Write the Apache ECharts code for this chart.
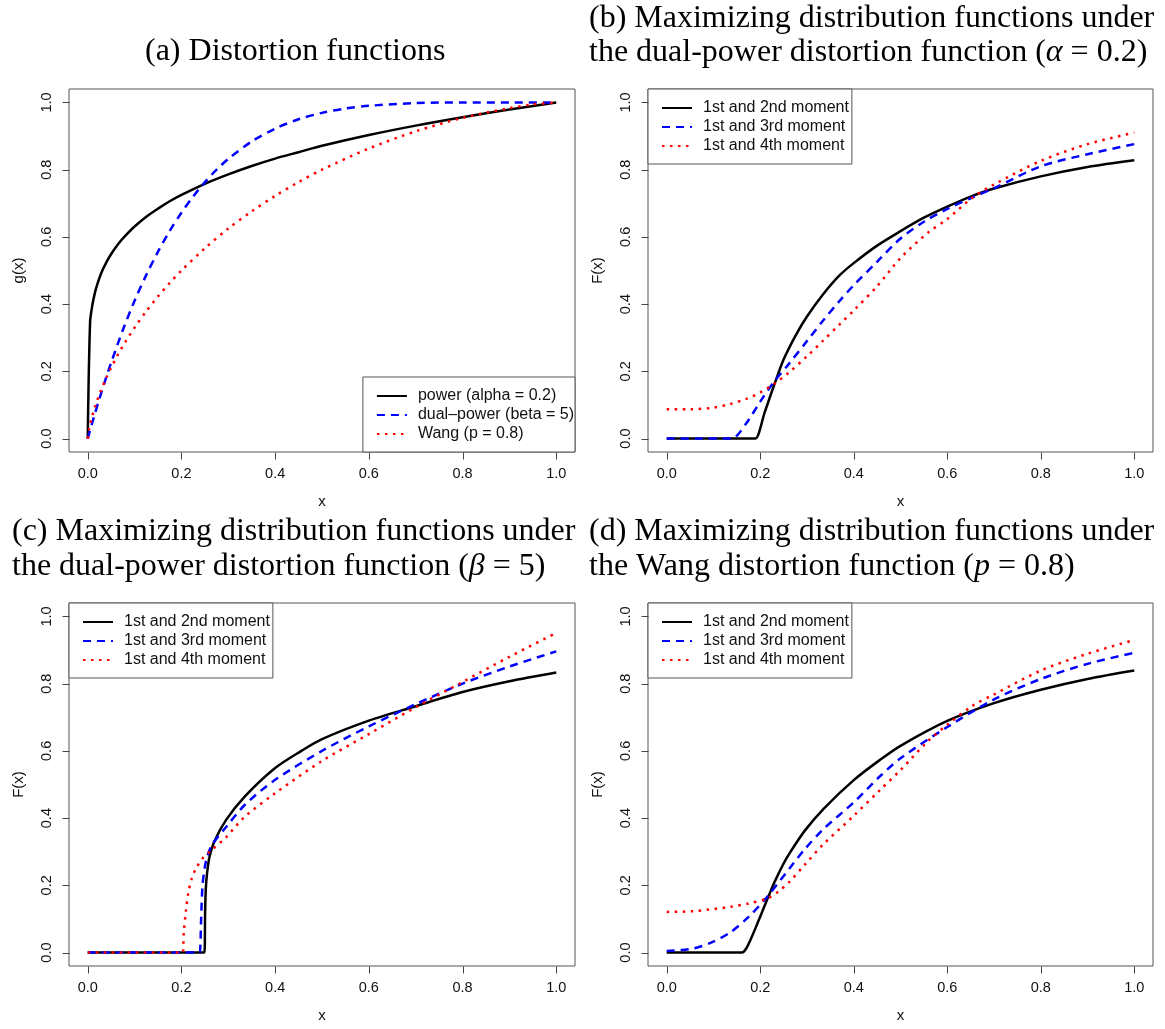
<!DOCTYPE html>
<html><head><meta charset="utf-8">
<script src="https://cdn.jsdelivr.net/npm/echarts/dist/echarts.min.js"></script>
<style>html,body{margin:0;padding:0;background:#fff}#c{width:1165px;height:1029px}</style>
</head><body><div id="c"></div>
<script>
// ---------- tick labels ----------
const ticks = [0, 0.2, 0.4, 0.6, 0.8, 1.0];

// ---------- panel (a): distortion functions ----------
const aPowerX = [0, 0.005, 0.01, 0.015, 0.02, 0.03, 0.04, 0.05, 0.065, 0.08, 0.1, 0.125, 0.15, 0.175, 0.2, 0.25, 0.3, 0.35, 0.4, 0.45, 0.5, 0.6, 0.7, 0.8, 0.9, 1.0];
const aPowerY = [0, 0.346, 0.398, 0.432, 0.457, 0.496, 0.525, 0.549, 0.579, 0.603, 0.631, 0.66, 0.684, 0.706, 0.725, 0.758, 0.786, 0.811, 0.833, 0.852, 0.871, 0.903, 0.931, 0.956, 0.979, 1.0];
const aDualX = [0, 0.0125, 0.025, 0.0375, 0.05, 0.075, 0.1, 0.125, 0.15, 0.175, 0.2, 0.225, 0.25, 0.275, 0.3, 0.35, 0.4, 0.45, 0.5, 0.55, 0.6, 0.7, 0.8, 0.9, 1.0];
const aDualY = [0, 0.061, 0.119, 0.174, 0.226, 0.323, 0.41, 0.487, 0.556, 0.618, 0.672, 0.72, 0.763, 0.8, 0.832, 0.884, 0.922, 0.95, 0.969, 0.982, 0.99, 0.998, 1.0, 1.0, 1.0];
const aWangX = [0, 0.0025, 0.005, 0.01, 0.015, 0.02, 0.03, 0.04, 0.05, 0.065, 0.08, 0.1, 0.125, 0.15, 0.175, 0.2, 0.25, 0.3, 0.35, 0.4, 0.45, 0.5, 0.6, 0.7, 0.8, 0.9, 0.95, 1.0];
const aWangY = [0, 0.025, 0.042, 0.069, 0.092, 0.113, 0.149, 0.182, 0.211, 0.251, 0.287, 0.33, 0.379, 0.423, 0.463, 0.5, 0.566, 0.625, 0.676, 0.722, 0.763, 0.8, 0.863, 0.914, 0.954, 0.983, 0.994, 1.0];
const aNames = ['power (alpha = 0.2)', 'dual\u2013power (beta = 5)', 'Wang (p = 0.8)'];

// ---------- panel (b) ----------
const bM2X = [0, 0.185, 0.19, 0.21, 0.23, 0.25, 0.275, 0.3, 0.335, 0.37, 0.4, 0.45, 0.5, 0.55, 0.6, 0.65, 0.7, 0.8, 0.9, 1.0];
const bM2Y = [0, 0, 0, 0.08, 0.16, 0.235, 0.305, 0.363, 0.43, 0.486, 0.522, 0.574, 0.617, 0.657, 0.69, 0.72, 0.744, 0.78, 0.808, 0.828];
const bM3X = [0, 0.135, 0.14, 0.17, 0.2, 0.23, 0.26, 0.3, 0.335, 0.37, 0.4, 0.45, 0.5, 0.55, 0.6, 0.65, 0.7, 0.8, 0.9, 1.0];
const bM3Y = [0, 0, 0, 0.045, 0.11, 0.17, 0.22, 0.29, 0.352, 0.41, 0.456, 0.526, 0.595, 0.645, 0.683, 0.715, 0.745, 0.81, 0.846, 0.876];
const bM4X = [0, 0.05, 0.1, 0.136, 0.17, 0.2, 0.231, 0.26, 0.3, 0.335, 0.37, 0.4, 0.45, 0.5, 0.56, 0.6, 0.654, 0.7, 0.8, 0.9, 1.0];
const bM4Y = [0.087, 0.087, 0.092, 0.103, 0.118, 0.137, 0.164, 0.195, 0.245, 0.292, 0.34, 0.381, 0.453, 0.537, 0.614, 0.653, 0.717, 0.756, 0.826, 0.876, 0.91];

// ---------- panel (c) ----------
const cM2X = [0, 0.245, 0.249, 0.2505, 0.252, 0.255, 0.26, 0.27, 0.295, 0.335, 0.4, 0.456, 0.5, 0.6, 0.7, 0.8, 0.9, 1.0];
const cM2Y = [0, 0, 0, 0.12, 0.19, 0.24, 0.285, 0.33, 0.394, 0.464, 0.549, 0.6, 0.635, 0.69, 0.733, 0.775, 0.807, 0.833];
const cM3X = [0, 0.235, 0.239, 0.242, 0.245, 0.25, 0.255, 0.265, 0.295, 0.335, 0.4, 0.5, 0.6, 0.7, 0.8, 0.9, 1.0];
const cM3Y = [0, 0, 0, 0.1, 0.2, 0.255, 0.285, 0.32, 0.373, 0.439, 0.514, 0.6, 0.673, 0.739, 0.8, 0.851, 0.896];
const cM4X = [0, 0.2, 0.203, 0.205, 0.21, 0.215, 0.222, 0.231, 0.245, 0.26, 0.295, 0.335, 0.4, 0.5, 0.6, 0.7, 0.8, 0.9, 1.0];
const cM4Y = [0, 0, 0, 0.06, 0.13, 0.18, 0.22, 0.25, 0.28, 0.30, 0.343, 0.404, 0.474, 0.57, 0.65, 0.73, 0.805, 0.88, 0.951];

// ---------- panel (d) ----------
const dM2X = [0, 0.155, 0.161, 0.17, 0.183, 0.195, 0.207, 0.22, 0.231, 0.25, 0.263, 0.295, 0.335, 0.4, 0.455, 0.5, 0.6, 0.7, 0.8, 0.9, 1.0];
const dM2Y = [0, 0, 0, 0.012, 0.05, 0.09, 0.131, 0.175, 0.211, 0.265, 0.296, 0.362, 0.427, 0.513, 0.572, 0.615, 0.689, 0.742, 0.782, 0.814, 0.839];
const dM3X = [0, 0.056, 0.096, 0.136, 0.175, 0.215, 0.263, 0.295, 0.335, 0.4, 0.455, 0.5, 0.6, 0.7, 0.8, 0.9, 1.0];
const dM3Y = [0.005, 0.012, 0.03, 0.06, 0.106, 0.166, 0.251, 0.307, 0.367, 0.447, 0.523, 0.578, 0.671, 0.753, 0.814, 0.859, 0.892];
const dM4X = [0, 0.056, 0.136, 0.175, 0.215, 0.24, 0.263, 0.295, 0.335, 0.4, 0.455, 0.5, 0.558, 0.6, 0.654, 0.7, 0.8, 0.9, 1.0];
const dM4Y = [0.121, 0.123, 0.136, 0.146, 0.161, 0.183, 0.211, 0.261, 0.322, 0.407, 0.482, 0.543, 0.628, 0.678, 0.734, 0.768, 0.839, 0.889, 0.93];

const mNames = ['1st and 2nd moment', '1st and 3rd moment', '1st and 4th moment'];

// ---------- titles ----------
const titleA = '(a) Distortion functions';
const titleB = '(b) Maximizing distribution functions under\nthe dual-power distortion function ({i|\u03b1} = 0.2)';
const titleC = '(c) Maximizing distribution functions under\nthe dual-power distortion function ({i|\u03b2} = 5)';
const titleD = '(d) Maximizing distribution functions under\nthe Wang distortion function ({i|p} = 0.8)';

// ---------- build ----------
const SANS = 'Liberation Sans, Arial, sans-serif';
const SERIF = 'Liberation Serif, serif';
const TFS = 32;
const AXMIN = -0.04, AXMAX = 1.04;
const TICKLEN = 7;
const pairs = (xs, ys) => xs.map((x, i) => [x, ys[i]]);
const styles = [
  { color: '#000000', width: 2.5, type: 'solid' },
  { color: '#0000ff', width: 2.5, type: [8, 6] },
  { color: '#ff0000', width: 2.5, type: [2.5, 5.5] }
];
const grids = [
  { left: 69, top: 89, width: 506, height: 363 },
  { left: 648, top: 89, width: 505, height: 363 },
  { left: 69, top: 603, width: 506, height: 363 },
  { left: 648, top: 603, width: 505, height: 363 }
].map(g => Object.assign(g, { show: true, borderColor: '#555', borderWidth: 1, backgroundColor: 'transparent' }));

const yNames = ['g(x)', 'F(x)', 'F(x)', 'F(x)'];
const axisCommon = (i) => ({
  gridIndex: i, type: 'value', min: AXMIN, max: AXMAX,
  splitLine: { show: false },
  axisLine: { show: false, onZero: false },
  axisTick: { show: false },
  nameLocation: 'middle',
  nameTextStyle: { fontSize: 15, color: '#111', fontFamily: SANS }
});
const xAxes = grids.map((g, i) => Object.assign(axisCommon(i), {
  axisLabel: { customValues: ticks, formatter: v => v.toFixed(1), fontSize: 14.5, color: '#111', fontFamily: SANS, margin: 14 },
  name: 'x', nameGap: 42
}));
const yAxes = grids.map((g, i) => Object.assign(axisCommon(i), {
  axisLabel: { customValues: ticks, formatter: v => v.toFixed(1), fontSize: 14.5, color: '#111', fontFamily: SANS, margin: 15, rotate: 90 },
  name: yNames[i], nameGap: 43, nameRotate: 90
}));

const panelData = [
  [[aPowerX, aPowerY], [aDualX, aDualY], [aWangX, aWangY]],
  [[bM2X, bM2Y], [bM3X, bM3Y], [bM4X, bM4Y]],
  [[cM2X, cM2Y], [cM3X, cM3Y], [cM4X, cM4Y]],
  [[dM2X, dM2Y], [dM3X, dM3Y], [dM4X, dM4Y]]
];
const series = [];
panelData.forEach((pd, p) => {
  pd.forEach((xy, k) => {
    series.push({
      type: 'line', name: p === 0 ? aNames[k] : mNames[k],
      xAxisIndex: p, yAxisIndex: p,
      data: pairs(xy[0], xy[1]),
      showSymbol: false, symbol: 'none',
      smooth: 0.3,
      lineStyle: { color: styles[k].color, width: styles[k].width, type: styles[k].type },
      itemStyle: { color: styles[k].color },
      emphasis: { disabled: true }, animation: false
    });
  });
  // outward tick marks on the frame, placed through the axis scales
  series.push({
    type: 'custom', xAxisIndex: p, yAxisIndex: p, silent: true, clip: false, z: 5,
    data: ticks.map(t => [t, AXMIN]),
    renderItem: (params, api) => {
      const q = api.coord([api.value(0), api.value(1)]);
      const x = Math.round(q[0]) + 0.5, y = Math.round(q[1]) + 0.5;
      return { type: 'line', shape: { x1: x, y1: y, x2: x, y2: y + TICKLEN }, style: { stroke: '#444', lineWidth: 1 } };
    }
  });
  series.push({
    type: 'custom', xAxisIndex: p, yAxisIndex: p, silent: true, clip: false, z: 5,
    data: ticks.map(t => [AXMIN, t]),
    renderItem: (params, api) => {
      const q = api.coord([api.value(0), api.value(1)]);
      const x = Math.round(q[0]) + 0.5, y = Math.round(q[1]) + 0.5;
      return { type: 'line', shape: { x1: x - TICKLEN, y1: y, x2: x, y2: y }, style: { stroke: '#444', lineWidth: 1 } };
    }
  });
});

const legendBase = {
  orient: 'vertical', itemWidth: 30, itemHeight: 14, itemGap: 3,
  borderColor: '#555', borderWidth: 1, borderRadius: 0, backgroundColor: '#fff',
  selectedMode: false,
  itemStyle: { color: 'rgba(0,0,0,0)', borderWidth: 0, opacity: 0 },
  textStyle: { fontFamily: SANS, fontSize: 16, color: '#111', padding: [0, 0, 0, 6] }
};
const legends = [
  Object.assign({}, legendBase, { data: aNames, right: 590, bottom: 577, padding: [11, 1, 10, 13] }),
  Object.assign({}, legendBase, { data: mNames, left: 648, top: 89, padding: [11, 3, 10, 13] }),
  Object.assign({}, legendBase, { data: mNames, left: 69, top: 603, padding: [11, 3, 10, 13] }),
  Object.assign({}, legendBase, { data: mNames, left: 648, top: 603, padding: [11, 3, 10, 13] })
];

const tStyle = (lh) => ({
  fontFamily: SERIF, fontSize: TFS, fontWeight: 'normal', color: '#000', lineHeight: lh,
  rich: { i: { fontFamily: SERIF, fontSize: TFS, fontStyle: 'italic', color: '#000', lineHeight: lh } }
});
const titles = [
  { text: titleA, left: 145, top: 35, padding: 0, textStyle: tStyle(34) },
  { text: titleB, left: 589, top: 2, padding: 0, textStyle: tStyle(34) },
  { text: titleC, left: 12, top: 514, padding: 0, textStyle: tStyle(35) },
  { text: titleD, left: 589, top: 514, padding: 0, textStyle: tStyle(35) }
];

const chart = echarts.init(document.getElementById('c'), null, { renderer: 'canvas' });
chart.setOption({
  backgroundColor: '#fff', animation: false,
  title: titles, grid: grids, xAxis: xAxes, yAxis: yAxes,
  legend: legends, series: series, tooltip: { show: false }
});
</script></body></html>
